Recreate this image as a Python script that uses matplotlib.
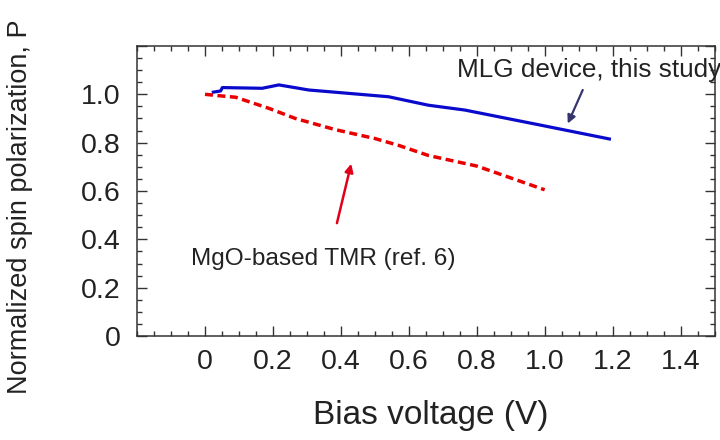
import matplotlib
matplotlib.use("Agg")
import matplotlib.pyplot as plt
from matplotlib.ticker import FixedLocator, FixedFormatter, MultipleLocator

plt.rcParams["font.family"] = ["Liberation Sans", "DejaVu Sans"]

# MLG device (this study)
mlg_v = [0.02, 0.046, 0.051, 0.168, 0.217, 0.305, 0.54, 0.657, 0.764, 0.989, 1.194]
mlg_p = [1.008, 1.014, 1.028, 1.025, 1.039, 1.018, 0.99, 0.955, 0.935, 0.872, 0.814]

# MgO-based TMR (ref. 6)
mgo_v = [0.0, 0.051, 0.09, 0.188, 0.266, 0.383, 0.50, 0.569, 0.657, 0.80, 0.999]
mgo_p = [1.0, 0.993, 0.988, 0.942, 0.90, 0.854, 0.817, 0.789, 0.747, 0.703, 0.605]

x_ticks = [0, 0.2, 0.4, 0.6, 0.8, 1.0, 1.2, 1.4]
x_labels = ["0", "0.2", "0.4", "0.6", "0.8", "1.0", "1.2", "1.4"]
y_ticks = [0, 0.2, 0.4, 0.6, 0.8, 1.0, 1.2]
y_labels = ["0", "0.2", "0.4", "0.6", "0.8", "1.0", ""]

TXT = "#222222"

fig = plt.figure(figsize=(7.2, 4.4), dpi=100)
ax = fig.add_axes([137/720, 1 - 336/440, (715 - 137)/720, (336 - 46)/440])

ax.plot(mlg_v, mlg_p, color="#0a0acc", lw=2.3, solid_capstyle="butt")
ax.plot(mgo_v, mgo_p, color="#e80000", lw=2.5, dashes=(2.3, 1.3))

ax.set_xlim(-0.2, 1.5)
ax.set_ylim(0, 1.2)

ax.xaxis.set_major_locator(FixedLocator(x_ticks))
ax.xaxis.set_major_formatter(FixedFormatter(x_labels))
ax.xaxis.set_minor_locator(MultipleLocator(0.05))
ax.yaxis.set_major_locator(FixedLocator(y_ticks))
ax.yaxis.set_major_formatter(FixedFormatter(y_labels))
ax.yaxis.set_minor_locator(MultipleLocator(0.05))

ax.tick_params(which="both", direction="in", top=True, right=True,
               color="#333333", width=1.0)
ax.tick_params(which="major", length=7)
ax.tick_params(which="minor", length=3.5)
ax.tick_params(axis="x", which="major", labelsize=20.5, pad=9, labelcolor=TXT)
ax.tick_params(axis="y", which="major", labelsize=20.5, pad=12, labelcolor=TXT)
for s in ax.spines.values():
    s.set_linewidth(1.1)
    s.set_color("#333333")

ax.text(0.74, 1.10, "MLG device, this study", fontsize=18.8, color=TXT,
        ha="left", va="center", clip_on=False)
ax.text(-0.042, 0.317, "MgO-based TMR (ref. 6)", fontsize=17.6, color=TXT,
        ha="left", va="center")

ax.annotate("", xy=(1.067, 0.879), xytext=(1.111, 1.018),
            arrowprops=dict(arrowstyle="-|>", color="#35356e", lw=1.6,
                            mutation_scale=12, shrinkA=0, shrinkB=0))
ax.annotate("", xy=(0.43, 0.713), xytext=(0.388, 0.467),
            arrowprops=dict(arrowstyle="-|>", color="#e0001a", lw=1.8,
                            mutation_scale=12, shrinkA=0, shrinkB=0))

fig.text(430.5/720, 1 - 415/440, "Bias voltage (V)", fontsize=24, color=TXT,
         ha="center", va="center")
fig.text(20/720, 1 - 206.7/440, "Normalized spin polarization, P", fontsize=19.5,
         color=TXT, rotation=90, ha="center", va="center")

fig.savefig("out.png", dpi=100)
